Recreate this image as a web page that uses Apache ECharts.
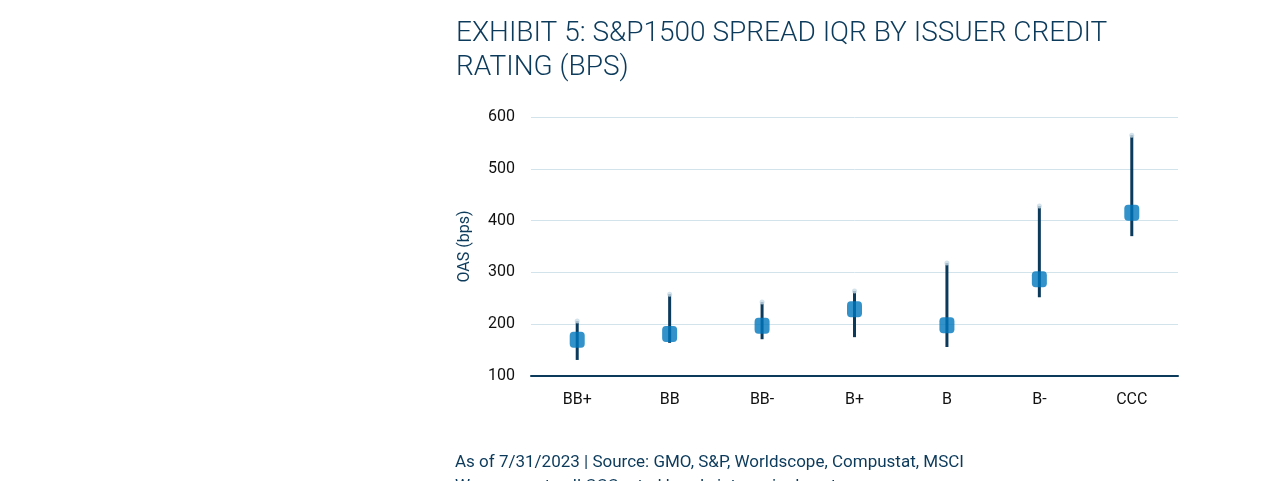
<!DOCTYPE html>
<html>
<head>
<meta charset="utf-8">
<script src="https://cdn.jsdelivr.net/npm/echarts@6/dist/echarts.min.js"></script>
<style>
html,body{margin:0;padding:0;background:#fff;}
#main{width:1275px;height:481px;}
</style>
</head>
<body>
<div id="main"></div>
<script>
var ratings = ['BB+','BB','BB-','B+','B','B-','CCC'];
var lows    = [131, 164, 171, 175, 156, 252, 370];
var highs   = [206, 258, 243, 264, 318, 428, 565];
var medians = [170, 181, 197, 229, 198, 287, 415];

var navy = '#0b3a5b';
var chart = echarts.init(document.getElementById('main'));

// range line low..high
var rangeData = ratings.map(function (r, i) { return [i, lows[i], highs[i]]; });

chart.setOption({
    animation: false,
    textStyle: {fontFamily: 'Roboto'},
    title: [{
        text: 'EXHIBIT 5: S&P1500 SPREAD IQR BY ISSUER CREDIT\nRATING (BPS)',
        left: 451, top: 12,
        textStyle: {fontSize: 28, fontWeight: 300, color: navy, lineHeight: 34, fontFamily: 'Roboto'}
    }, {
        text: 'As of 7/31/2023 | Source: GMO, S&P, Worldscope, Compustat, MSCI\nWe aggregate all CCC rated bonds into a single category.',
        left: 450, top: 446,
        textStyle: {fontSize: 17, fontWeight: 400, color: navy, lineHeight: 24, fontFamily: 'Roboto'}
    }],
    grid: {left: 531, right: 97, top: 117, bottom: 105},
    xAxis: {
        type: 'category',
        data: ratings,
        axisLine: {lineStyle: {color: navy, width: 2}},
        axisTick: {show: false},
        axisLabel: {color: '#111', fontSize: 16, margin: 16}
    },
    yAxis: {
        type: 'value',
        min: 100, max: 600, interval: 100,
        name: 'OAS (bps)',
        nameLocation: 'middle',
        nameGap: 58,
        nameTextStyle: {color: navy, fontSize: 16},
        axisLine: {show: false},
        axisTick: {show: false},
        axisLabel: {color: '#111', fontSize: 16, margin: 16},
        splitLine: {lineStyle: {color: '#d3e3ec', width: 1}}
    },
    series: [{
        type: 'custom',
        data: rangeData,
        renderItem: function (params, api) {
            var p1 = api.coord([api.value(0), api.value(1)]);
            var p2 = api.coord([api.value(0), api.value(2)]);
            return {
                type: 'line',
                shape: {x1: p1[0], y1: p1[1], x2: p2[0], y2: p2[1]},
                style: {stroke: navy, lineWidth: 3}
            };
        },
        z: 2
    }, {
        type: 'scatter',
        data: highs,
        symbol: 'circle',
        symbolSize: 5,
        itemStyle: {color: '#c9dbe6'},
        z: 3
    }, {
        type: 'scatter',
        data: medians,
        symbol: 'roundRect',
        symbolSize: [15, 16],
        itemStyle: {color: '#0077bb'},
        z: 4
    }]
});
</script>
</body>
</html>
